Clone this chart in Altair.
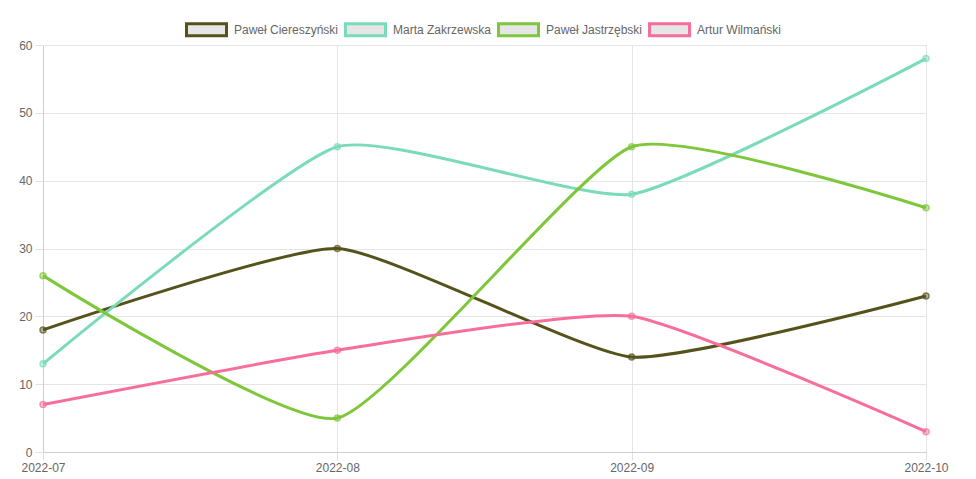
import altair as alt
import pandas as pd

months = ["2022-07", "2022-08", "2022-09", "2022-10"]
series_names = ["Paweł Ciereszyński", "Marta Zakrzewska", "Paweł Jastrzębski", "Artur Wilmański"]
ciereszynski = [18, 30, 14, 23]
zakrzewska = [13, 45, 38, 58]
jastrzebski = [26, 5, 45, 36]
wilmanski = [7, 15, 20, 3]
colors = ["#56521c", "#7adbb8", "#7ec63a", "#f86e9b"]

rows = []
for name, vals in zip(series_names, [ciereszynski, zakrzewska, jastrzebski, wilmanski]):
    for m, v in zip(months, vals):
        rows.append({"month": m, "series": name, "series_fill": name, "value": v})
df = pd.DataFrame(rows)

FONT = "Liberation Sans"

x_enc = alt.X("month:N", sort=months, scale=alt.Scale(type="point", padding=0),
              axis=alt.Axis(title=None, labelAngle=0, grid=True, gridColor="#e5e5e5",
                            domainColor="#cfcfcf", tickColor="#e0e0e0", tickSize=8,
                            labelPadding=2, labelFont=FONT, labelFontSize=12, labelColor="#666"))
y_enc = alt.Y("value:Q", scale=alt.Scale(domain=[0, 60], nice=False),
              axis=alt.Axis(title=None, values=[0, 10, 20, 30, 40, 50, 60], grid=True,
                            gridColor="#e5e5e5", domainColor="#cfcfcf", tickColor="#e0e0e0",
                            tickSize=8, labelPadding=3, labelFont=FONT, labelFontSize=12,
                            labelColor="#666"))
stroke_enc = alt.Stroke("series:N", sort=series_names,
                        scale=alt.Scale(domain=series_names, range=colors),
                        legend=alt.Legend(orient="none", legendX=142, legendY=-37,
                                          direction="horizontal", title=None,
                                          symbolType="M-1,-0.3H1V0.3H-1Z", symbolSize=1600,
                                          symbolStrokeWidth=3, symbolFillColor="#e6e6e6",
                                          symbolOpacity=1,
                                          labelFont=FONT, labelFontSize=12, labelColor="#666",
                                          labelOffset=6, columnPadding=0, padding=0))

lines = alt.Chart(df).mark_line(interpolate="cardinal", tension=0.5, strokeWidth=3).encode(
    x=x_enc, y=y_enc, stroke=stroke_enc)
points = alt.Chart(df).mark_point(filled=False, size=36, strokeWidth=1.5, opacity=1).encode(
    x=x_enc, y=y_enc,
    stroke=stroke_enc,
    fill=alt.Fill("series_fill:N", scale=alt.Scale(domain=series_names, range=colors), legend=None),
    fillOpacity=alt.value(0.4), strokeOpacity=alt.value(0.7))

chart = alt.layer(lines, points).resolve_scale(fill="independent").properties(
    width=883, height=407,
    autosize=alt.AutoSizeParams(type="none"),
    padding={"left": 35, "top": 37, "right": 42, "bottom": 25},
).configure_view(stroke=None).configure(background="white")

chart.save("out.html", embed_options={"renderer": "svg", "actions": False})
